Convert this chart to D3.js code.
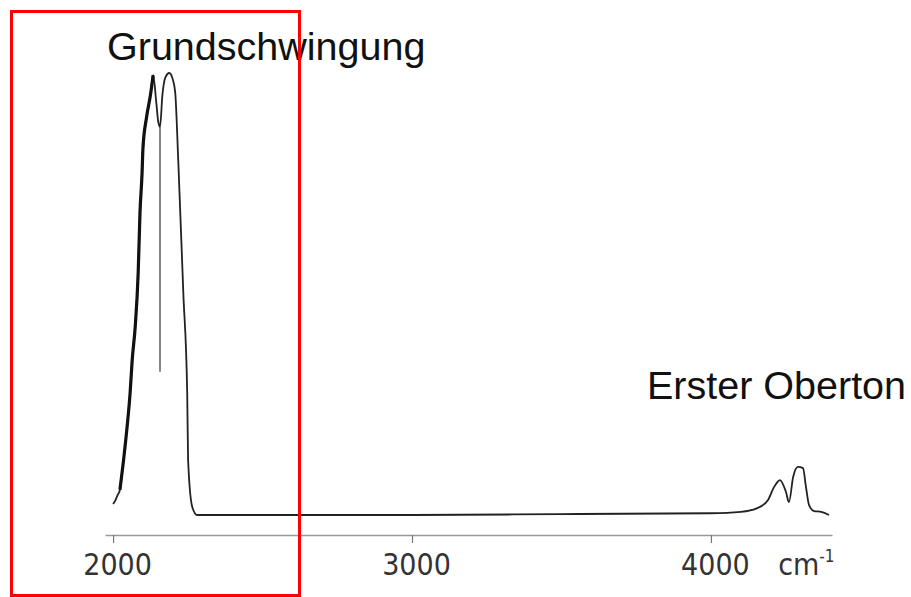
<!DOCTYPE html>
<html>
<head>
<meta charset="utf-8">
<script src="https://cdn.jsdelivr.net/npm/d3@7"></script>
<style>
  body { margin: 0; background: #fff; }
</style>
</head>
<body>
<script>
// wavenumbers (cm-1) and relative absorbance
var wavenumbers = [2000, 2007, 2015, 2023, 2034, 2047, 2057, 2064, 2074, 2084, 2090, 2097, 2100, 2112, 2125, 2134,
  2145, 2151, 2157, 2165, 2175, 2188, 2200, 2208, 2218, 2235, 2248, 2251, 2265, 2281,
  2500, 3000, 3500, 4000, 4100, 4157, 4191, 4211, 4231, 4251, 4261, 4275, 4291, 4308, 4318, 4328, 4345, 4369, 4395];
var absorbance = [0.025, 0.032, 0.045, 0.057, 0.118, 0.2, 0.276, 0.351, 0.425, 0.548, 0.683, 0.774, 0.83, 0.9, 0.95, 0.995,
  0.93, 0.89, 0.878, 0.95, 0.99, 1.0, 0.985, 0.955, 0.803, 0.502, 0.276, 0.124, 0.018, 0.0,
  0.0, 0.0, 0.002, 0.004, 0.007, 0.016, 0.034, 0.063, 0.079, 0.052, 0.029, 0.086, 0.109, 0.106, 0.063, 0.023, 0.009, 0.007, 0.0];

// heavy pen trace on the rising edge of the fundamental
var edgeRange = [2023, 2134];
// vertical marker line inside the fundamental band
var markerWn = 2157;
var markerAbs = [0.878, 0.324];

var tickValues = [2000, 3000, 4000];
var unitLabel = 'cm';
var unitSup = '-1';
var titleLeft = 'Grundschwingung';
var titleRight = 'Erster Oberton';

var width = 911;
var height = 597;

var data = wavenumbers.map(function(w, i) {
  return { wn: w, a: absorbance[i] };
});

var xScale = d3.scaleLinear()
  .domain([1973, 4405])
  .range([105, 832]);

var yScale = d3.scaleLinear()
  .domain([0, 1])
  .range([515, 73]);

var svg = d3.select('body')
  .append('svg')
  .attr('width', width)
  .attr('height', height);

var line = d3.line()
  .x(function(d) { return xScale(d.wn) })
  .y(function(d) { return yScale(d.a) })
  .curve(d3.curveMonotoneX);

svg.append('path')
  .datum(data)
  .attr('d', line)
  .attr('fill', 'none')
  .attr('stroke', '#222')
  .attr('stroke-width', 1.8);

svg.append('path')
  .datum(data.filter(function(d) { return d.wn >= edgeRange[0] && d.wn <= edgeRange[1] }))
  .attr('d', line)
  .attr('fill', 'none')
  .attr('stroke', '#111')
  .attr('stroke-width', 3.2);

svg.append('line')
  .attr('x1', xScale(markerWn))
  .attr('x2', xScale(markerWn))
  .attr('y1', yScale(markerAbs[0]))
  .attr('y2', yScale(markerAbs[1]))
  .attr('stroke', '#444')
  .attr('stroke-width', 1.3);

var xAxis = d3.axisBottom()
  .scale(xScale)
  .tickValues(tickValues)
  .tickSize(8)
  .tickSizeOuter(0)
  .tickFormat(d3.format('d'));

var axis = svg.append('g')
  .attr('class', 'x axis')
  .attr('transform', 'translate(0,535)')
  .call(xAxis);

axis.select('.domain')
  .attr('stroke', '#999')
  .attr('stroke-width', 1.5);
axis.selectAll('.tick line')
  .attr('stroke', '#777')
  .attr('stroke-width', 1.2);
axis.selectAll('.tick text')
  .attr('y', 40)
  .attr('dy', 0)
  .attr('dx', 4)
  .attr('fill', '#333')
  .style('font-family', '"DejaVu Sans Condensed", "DejaVu Sans", sans-serif')
  .style('font-size', '30px');

var unit = svg.append('text')
  .attr('x', xScale(4225))
  .attr('y', 575)
  .attr('fill', '#333')
  .style('font-family', '"DejaVu Sans Condensed", "DejaVu Sans", sans-serif')
  .style('font-size', '30px');
unit.append('tspan').text(unitLabel);
unit.append('tspan')
  .attr('dy', -13)
  .style('font-size', '17px')
  .text(unitSup);

svg.append('text')
  .attr('x', 107)
  .attr('y', 60)
  .attr('fill', '#111')
  .style('font-family', '"Liberation Sans", Arial, sans-serif')
  .style('font-size', '39.5px')
  .text(titleLeft);

svg.append('text')
  .attr('x', 647)
  .attr('y', 399)
  .attr('fill', '#111')
  .style('font-family', '"Liberation Sans", Arial, sans-serif')
  .style('font-size', '39.5px')
  .text(titleRight);

// red highlight frame over the fundamental region
svg.append('rect')
  .attr('x', 11.5)
  .attr('y', 11.5)
  .attr('width', 288)
  .attr('height', 584)
  .attr('fill', 'none')
  .attr('stroke', '#f00')
  .attr('stroke-width', 3);
</script>
</body>
</html>
